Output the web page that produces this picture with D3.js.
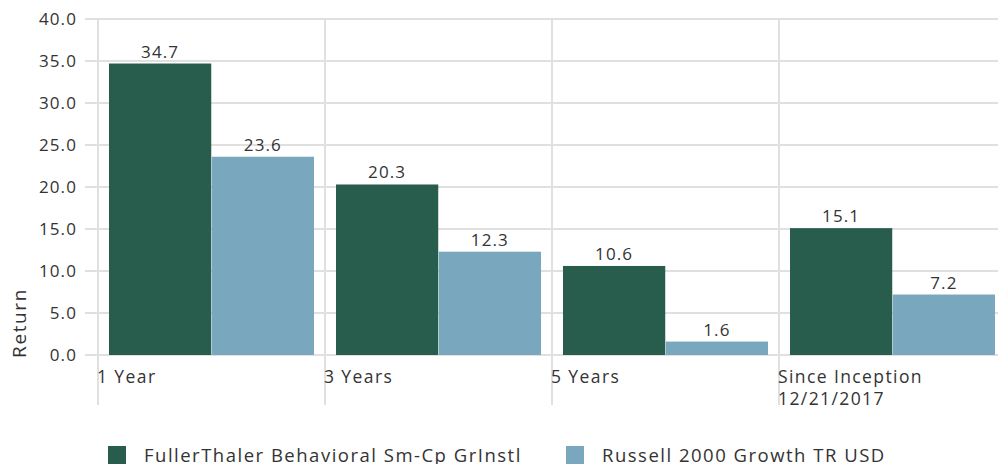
<!DOCTYPE html>
<html><head><meta charset="utf-8">
<script src="https://cdn.jsdelivr.net/npm/d3@7"></script>
<style>body{margin:0;background:#fff}svg{display:block}text{font-family:"Open Sans",sans-serif;fill:#333;letter-spacing:1.1px}</style>
</head><body><svg id="c" width="998" height="464"></svg>
<script>
const categories = ["1 Year", "3 Years", "5 Years", "Since Inception\n12/21/2017"];
const seriesNames = ["FullerThaler Behavioral Sm-Cp GrInstl", "Russell 2000 Growth TR USD"];
const fundValues = [34.7, 20.3, 10.6, 15.1];
const benchValues = [23.6, 12.3, 1.6, 7.2];
const yTicks = [0, 5, 10, 15, 20, 25, 30, 35, 40];
const colors = ["#285c4d", "#79a7bd"];

(function(){
const svg = d3.select("#c");
const mL = 98, mR = 1006, mT = 19, mB = 355;
const x = d3.scaleBand().domain(categories).range([mL, mR]);
const inner = d3.scaleBand().domain([0, 1]).range([11, x.bandwidth() - 11]).paddingInner(0.005);
const y = d3.scaleLinear().domain([0, 40]).range([mB, mT]);
const grid = "#e0e0e0";

svg.append("g").selectAll("line").data(yTicks).join("line")
  .attr("x1", 85).attr("x2", 998).attr("y1", d => y(d)).attr("y2", d => y(d))
  .attr("stroke", grid).attr("stroke-width", 2);
svg.append("g").selectAll("line").data(categories).join("line")
  .attr("x1", d => x(d)).attr("x2", d => x(d)).attr("y1", mT - 1).attr("y2", 405)
  .attr("stroke", grid).attr("stroke-width", 2);

svg.append("g").selectAll("text").data(yTicks).join("text")
  .attr("x", 77).attr("y", d => y(d)).attr("dy", "0.35em").attr("text-anchor", "end")
  .attr("font-size", 17).text(d => d.toFixed(1));
svg.append("text").attr("transform", "translate(26,323) rotate(-90)").attr("text-anchor", "middle")
  .attr("font-size", 19).style("letter-spacing", "1.6px").text("Return");

const series = [fundValues, benchValues];
series.forEach((vals, si) => {
  const g = svg.append("g");
  g.selectAll("rect").data(categories).join("rect")
    .attr("x", (c) => x(c) + inner(si)).attr("width", inner.bandwidth())
    .attr("y", (c, i) => y(vals[i])).attr("height", (c, i) => y(0) - y(vals[i]))
    .attr("fill", colors[si]);
  g.selectAll("text").data(categories).join("text")
    .attr("x", (c) => x(c) + inner(si) + inner.bandwidth() / 2)
    .attr("y", (c, i) => y(vals[i]) - 6).attr("text-anchor", "middle")
    .attr("font-size", 17).text((c, i) => vals[i].toFixed(1));
});

const cl = svg.append("g").selectAll("text").data(categories).join("text")
  .attr("x", d => x(d) - 1).attr("y", 383).attr("font-size", 17.5).style("letter-spacing", "1.4px");
cl.each(function(d){
  const t = d3.select(this);
  d.split("\n").forEach((line, i) => t.append("tspan").attr("x", x(d) - 1).attr("dy", i ? 22 : 0).text(line));
});

const leg = [108, 566];
seriesNames.forEach((n, i) => {
  svg.append("rect").attr("x", leg[i]).attr("y", 446).attr("width", 18).attr("height", 18).attr("fill", colors[i]);
  svg.append("text").attr("x", leg[i] + 36).attr("y", 462).attr("font-size", 18.5).style("letter-spacing", "1.5px").text(n);
});
})();
</script></body></html>
